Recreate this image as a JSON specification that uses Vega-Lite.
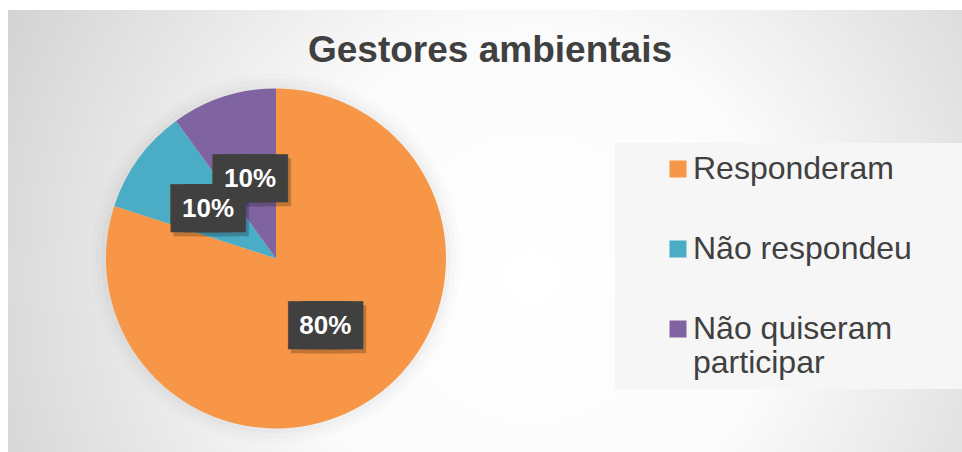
{
  "$schema": "https://vega.github.io/schema/vega-lite/v6.json",
  "width": 954,
  "height": 442,
  "autosize": {"type": "none"},
  "padding": {"left": 8, "top": 10, "right": 0, "bottom": 0},
  "background": "#ffffff",
  "view": {
    "stroke": null,
    "fill": {
      "gradient": "radial",
      "x1": 0.55, "y1": 0.55, "r1": 0,
      "x2": 0.55, "y2": 0.55, "r2": 0.75,
      "stops": [
        {"offset": 0, "color": "#ffffff"},
        {"offset": 0.35, "color": "#fbfbfb"},
        {"offset": 1, "color": "#c4c4c4"}
      ]
    }
  },
  "config": {
    "font": "Liberation Sans"
  },
  "title": {
    "text": "Gestores ambientais",
    "fontSize": 37,
    "fontWeight": "bold",
    "color": "#404040",
    "font": "Liberation Sans",
    "anchor": "middle",
    "frame": "group",
    "baseline": "alphabetic",
    "offset": -89,
    "dx": 5
  },
  "data": {
    "values": [
      {"categoria": "Responderam", "valor": 80, "ordem": 1, "rotulo": "80%"},
      {"categoria": "Não respondeu", "valor": 10, "ordem": 2, "rotulo": "10%"},
      {"categoria": "Não quiseram participar", "valor": 10, "ordem": 3, "rotulo": "10%"}
    ]
  },
  "encoding": {
    "theta": {"field": "valor", "type": "quantitative", "stack": true},
    "order": {"field": "ordem", "type": "quantitative"},
    "color": {
      "field": "categoria",
      "type": "nominal",
      "sort": ["Responderam", "Não respondeu", "Não quiseram participar"],
      "scale": {
        "domain": ["Responderam", "Não respondeu", "Não quiseram participar"],
        "range": ["#F79646", "#4BACC6", "#8064A2"]
      },
      "legend": {
        "title": " ",
        "titleOrient": "right",
        "titlePadding": 48,
        "orient": "none",
        "legendX": 607,
        "legendY": 133,
        "padding": 10,
        "fillColor": "#f6f6f6",
        "symbolType": "square",
        "symbolSize": 289,
        "symbolStrokeWidth": 0,
        "symbolOffset": 37,
        "labelOffset": -1,
        "labelFontSize": 32,
        "labelFont": "Liberation Sans",
        "labelColor": "#404040",
        "labelLimit": 500,
        "rowPadding": 48,
        "labelExpr": "datum.label === 'Não quiseram participar' ? ['Não quiseram', 'participar'] : datum.label"
      }
    }
  },
  "layer": [
    {
      "mark": {"type": "arc", "outerRadius": 185, "x": 268, "y": 248.5, "opacity": 0.012},
      "encoding": {"color": {"value": "#000000"}}
    },
    {
      "mark": {"type": "arc", "outerRadius": 180, "x": 268, "y": 248.5, "opacity": 0.015},
      "encoding": {"color": {"value": "#000000"}}
    },
    {
      "mark": {"type": "arc", "outerRadius": 175, "x": 268, "y": 248.5, "opacity": 0.018},
      "encoding": {"color": {"value": "#000000"}}
    },
    {"mark": {"type": "arc", "outerRadius": 170, "x": 268, "y": 248.5}},
    {
      "mark": {"type": "text", "radius": 84, "x": 268, "y": 248.5, "dx": 3, "dy": 4, "font": "DejaVu Sans Mono", "fontSize": 22, "strokeWidth": 22, "strokeJoin": "miter", "opacity": 0.22},
      "encoding": {"text": {"value": "████"}, "color": {"value": "#000000"}, "stroke": {"value": "#000000"}}
    },
    {
      "mark": {"type": "text", "radius": 84, "x": 268, "y": 248.5, "font": "DejaVu Sans Mono", "fontSize": 22, "strokeWidth": 22, "strokeJoin": "miter"},
      "encoding": {"text": {"value": "████"}, "color": {"value": "#404040"}, "stroke": {"value": "#404040"}}
    },
    {
      "mark": {"type": "text", "radius": 84, "x": 268, "y": 248.5, "font": "Liberation Sans", "fontSize": 26, "fontWeight": "bold"},
      "encoding": {"text": {"field": "rotulo"}, "color": {"value": "#ffffff"}}
    }
  ]
}
